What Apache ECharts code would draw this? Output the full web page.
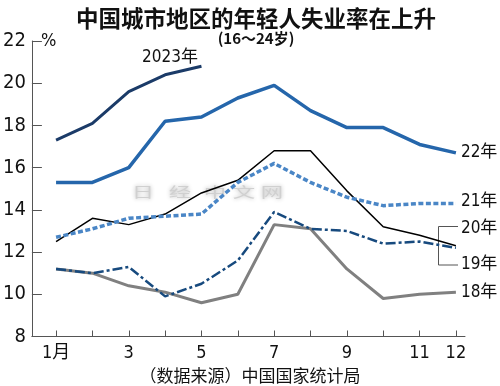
<!DOCTYPE html>
<html>
<head>
<meta charset="utf-8">
<script src="https://cdn.jsdelivr.net/npm/echarts@6/dist/echarts.min.js"></script>
<style>
html,body{margin:0;padding:0;background:#fff;}
#c{width:500px;height:386px;}
</style>
</head>
<body>
<div id="c"></div>
<script>
const months = [1,2,3,4,5,6,7,8,9,10,11,12];
const xTickLabels = [1,3,5,7,9,11,12];
const yTicks = [8,10,12,14,16,18,20,22];
const y2023 = [17.3,18.1,19.6,20.4,20.8];
const y2022 = [15.3,15.3,16.0,18.2,18.4,19.3,19.9,18.7,17.9,17.9,17.1,16.7];
const y2021 = [12.7,13.1,13.6,13.7,13.8,15.3,16.2,15.3,14.6,14.2,14.3,14.3];
const y2020 = [12.5,13.6,13.3,13.8,14.8,15.4,16.8,16.8,14.9,13.2,12.8,12.3];
const y2019 = [11.2,11.0,11.3,9.9,10.5,11.6,13.9,13.1,13.0,12.4,12.5,12.2];
const y2018 = [11.2,11.0,10.4,10.1,9.6,10.0,13.3,13.1,11.2,9.8,10.0,10.1];
const seriesNames = ['18年','19年','20年','21年','22年','2023年'];

const NARROW = '"Liberation Sans Narrow","DejaVu Sans Condensed","Arial Narrow","Noto Sans CJK SC",sans-serif';
const CJK = '"Noto Sans CJK SC","Noto Sans",sans-serif';

function pairs(vals){ return vals.map((v,i)=>[months[i], v]); }

const chart = echarts.init(document.getElementById('c'), null, {renderer:'canvas'});

function endLbl(text, dy){
  return {show:true, formatter:text, distance:5, offset:[0,dy||0], color:'#111',
    fontFamily:NARROW, fontSize:17};
}

function wm(ch, x){
  return {type:'text', x:x, y:192, scaleX:1.6, style:{text:ch, fontFamily:CJK, fontSize:14,
    fill:'#d0d0d0', align:'center', verticalAlign:'middle',
    textShadowColor:'rgba(0,0,0,0.3)', textShadowBlur:4}};
}

const option = {
  animation:false,
  backgroundColor:'#fff',
  title:[
    {text:'中国城市地区的年轻人失业率在上升', left:251, top:2, textAlign:'center',
      textStyle:{fontFamily:CJK, fontWeight:'bold', fontSize:22.5, color:'#111'}},
    {text:'(16～24岁)', left:251, top:26, textAlign:'center',
      textStyle:{fontFamily:CJK, fontWeight:'bold', fontSize:15, color:'#111'}},
    {text:'（数据来源）中国国家统计局', left:245, top:362, textAlign:'center',
      textStyle:{fontFamily:CJK, fontWeight:'normal', fontSize:17, color:'#111'}}
  ],
  grid:{left:27, right:35, top:41, bottom:49.5, containLabel:false},
  xAxis:{
    type:'value', min:0.335, max:12.25,
    axisLine:{show:true, lineStyle:{color:'#555', width:1}},
    axisTick:{show:true, inside:true, length:6, customValues:months, lineStyle:{color:'#555'}},
    axisLabel:{show:true, customValues:xTickLabels, margin:8, color:'#111',
      fontFamily:NARROW, fontSize:18,
      formatter:function(v){ return v===1 ? '1月' : String(v); }},
    splitLine:{show:false}
  },
  yAxis:{
    type:'value', min:8, max:22, interval:2,
    axisLine:{show:true, lineStyle:{color:'#555', width:1}},
    axisTick:{show:true, inside:true, length:10, lineStyle:{color:'#555'}},
    axisLabel:{show:true, margin:6, color:'#111', fontFamily:NARROW, fontSize:20,
      customValues:yTicks},
    splitLine:{show:false}
  },
  graphic:[
    {type:'text', left:41, top:32, style:{text:'%', fontFamily:NARROW, fontSize:18, fill:'#111'}},
    {type:'text', x:170, y:58, style:{text:'2023年', fontFamily:NARROW, fontSize:17, fill:'#111',
      align:'center', verticalAlign:'middle'}},
    {type:'polyline', shape:{points:[[458,226.5],[438.5,226.5],[438.5,265],[458,265]]},
      style:{stroke:'#555', lineWidth:1, fill:null}},
    {type:'group', children:[wm('日',143), wm('经',180), wm('中',215), wm('文',244), wm('网',272)]}
  ],
  series:[
    {name:seriesNames[0], type:'line', data:pairs(y2018), symbol:'none', z:2,
      lineStyle:{color:'#808080', width:3}, endLabel:endLbl('18年')},
    {name:seriesNames[1], type:'line', data:pairs(y2019), symbol:'none', z:3,
      lineStyle:{color:'#174a7e', width:2.5, type:[10,3,3,3]}, endLabel:endLbl('19年',17)},
    {name:seriesNames[2], type:'line', data:pairs(y2020), symbol:'none', z:4,
      lineStyle:{color:'#000', width:1.5}, endLabel:endLbl('20年',-17)},
    {name:seriesNames[3], type:'line', data:pairs(y2021), symbol:'none', z:5,
      lineStyle:{color:'#4a86c6', width:3.5, type:[5,2.5]}, endLabel:endLbl('21年',-2)},
    {name:seriesNames[4], type:'line', data:pairs(y2022), symbol:'none', z:6,
      lineStyle:{color:'#2566ab', width:3.5}, endLabel:endLbl('22年')},
    {name:seriesNames[5], type:'line', data:pairs(y2023), symbol:'none', z:7,
      lineStyle:{color:'#1b3b68', width:3}}
  ]
};
chart.setOption(option);
</script>
</body>
</html>
